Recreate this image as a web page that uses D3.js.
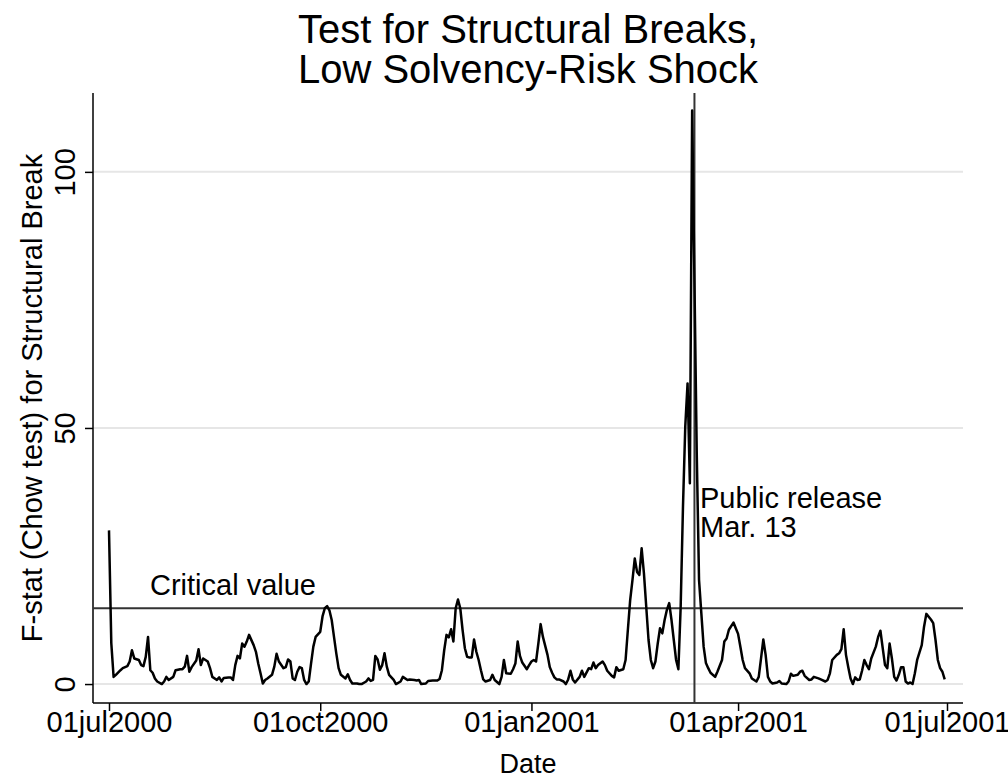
<!DOCTYPE html>
<html>
<head>
<meta charset="utf-8">
<script src="https://cdn.jsdelivr.net/npm/d3@7"></script>
<style>
body { margin: 0; background: #fff; }
text { font-family: "Liberation Sans", Arial, Helvetica, sans-serif; fill: #000; }
</style>
</head>
<body>
<div id="chart"></div>
<script>
// days since 01jul2000
var dayIdx = [0,1,2,3,5,6,8,9,10,11,13,14,15,16,17,18,19,20,21,23,24,25,26,28,29,31,32,33,34,35,36,38,39,40,41,43,44,45,47,48,49,50,52,53,54,55,56,57,
  58,59,60,61,63,64,65,66,67,68,69,71,72,73,74,76,77,78,79,80,81,82,83,84,85,86,87,88,89,90,92,93,94,95,96,97,98,99,100,101,103,104,105,106,108,109,110,112,113,114,115,116,117,118,
  119,120,121,122,124,125,127,128,130,131,133,134,135,136,138,139,141,143,144,145,146,147,148,149,150,151,152,153,154,155,156,157,158,159,160,161,162,163,164,166,167,168,170,171,172,173,175,176,177,178,179,
  180,182,183,184,185,186,187,188,189,191,192,193,194,195,196,198,199,200,201,202,203,205,206,207,209,210,211,212,213,215,216,217,219,220,221,222,224,225,226,227,
  228,229,230,231,232,233,234,235,236,237,238,239,240,241,242,243,244,245,246,247,248,249,250,251,252,253,254,256,257,258,259,260,261,
  262,264,265,267,268,269,270,272,273,274,275,276,277,279,280,282,283,284,285,286,287,288,289,291,292,293,295,296,297,298,300,301,302,303,305,306,307,309,310,
  312,313,314,315,317,318,319,320,321,322,323,324,325,326,327,328,329,330,331,332,334,335,336,337,338,339,340,341,342,343,344,345,346,347,348,349,350,351,352,354,355,356,358,359,360,361,362,363,364];
var fstat = [30,8,1.4,1.8,2.7,3.1,3.5,4.4,6.6,5.0,4.7,3.7,3.5,5.3,9.2,2.7,2.2,1.1,0.5,0.0,0.5,1.4,0.8,1.4,2.7,2.9,2.9,3.4,5.5,2.4,3.3,4.6,6.8,3.7,5.0,4.4,3.1,1.4,0.8,1.3,0.5,1.2,1.3,1.3,0.8,3.7,5.5,5.0,
  7.9,7.3,8.3,9.6,7.6,6.3,4.0,2.1,0.1,0.8,1.1,1.8,3.4,5.9,4.4,3.1,3.3,4.8,4.4,1.1,0.8,2.4,3.3,3.1,0.8,0.0,0.5,4.0,7.3,9.2,10.2,13.2,14.8,15.2,14.4,12.5,9.2,6.0,3.1,1.8,1.1,1.9,0.8,0.1,0.1,0.0,0.0,0.5,1.1,0.6,0.8,5.5,4.8,2.8,
  3.7,6.0,3.4,1.8,0.8,0.0,0.5,1.4,0.8,0.9,0.8,0.7,0.8,0.0,0.1,0.6,0.7,0.7,1.0,2.7,6.6,9.6,9.1,10.7,8.3,14.8,16.5,14.8,10.6,7.0,5.3,5.2,5.2,8.7,6.3,4.7,2.7,0.9,0.5,0.8,1.8,0.8,0.0,1.4,4.7,2.1,2.0,2.9,4.0,8.3,5.5,
  4.2,2.9,3.7,4.4,4.7,4.4,7.9,11.7,9.2,5.7,3.3,2.2,1.3,0.9,0.9,0.5,0.0,0.9,2.6,0.9,0.3,1.4,2.6,1.4,3.1,2.9,4.2,3.1,3.7,4.4,3.7,2.6,1.6,1.3,3.3,2.6,2.9,4.7,10.6,16.4,
  20.3,24.5,21.9,21.3,26.5,21.6,15.1,8.6,4.7,3.1,4.4,7.9,10.9,9.9,12.5,14.5,15.8,12.5,8.6,4.7,2.9,15.1,34.6,50.3,58.7,39.2,112,45,20.3,13.8,7.3,4.1,3.1,
  2.2,1.4,2.4,4.7,8.3,8.9,10.6,12.0,10.9,9.8,7.3,4.7,3.1,2.1,1.1,0.5,1.4,5.0,8.7,5.7,1.4,0.5,0.1,0.3,0.6,0.1,0.0,0.5,2.0,1.6,1.8,2.4,2.6,1.6,0.8,0.9,1.4,1.1,0.9,
  0.5,0.8,2.1,4.7,5.7,6.0,6.8,10.7,5.7,3.3,1.1,0.0,1.3,0.8,0.9,2.6,4.7,3.7,2.9,5.0,7.3,9.2,10.4,7.0,3.7,3.1,7.9,5.0,1.4,0.7,1.8,3.3,3.3,0.5,0.1,0.3,0.0,2.1,4.7,7.6,11.2,13.7,12.6,11.9,8.6,4.7,3.1,2.4,0.9];

var xTicks = ["2000-07-01","2000-10-01","2001-01-01","2001-04-01","2001-07-01"];
var yTicks = [0, 50, 100];
var criticalValue = 14.8;
var releaseDate = "2001-03-13";

var parse = d3.timeParse("%Y-%m-%d");
var fmt = d3.timeFormat("%d%b%Y");
var start = parse("2000-07-01");

var data = dayIdx.map(function(d, i) {
  return { date: d3.timeDay.offset(start, d), value: fstat[i] };
});

var W = 1008, H = 782;
var pLeft = 93, pRight = 963, pTop = 93, pBottom = 703;

var svg = d3.select("#chart").append("svg")
  .attr("width", W).attr("height", H);

var x = d3.scaleTime()
  .domain([parse("2000-07-01"), parse("2001-07-01")])
  .range([109, 947]);
var y = d3.scaleLinear()
  .domain([-3.7, 115.4])
  .range([pBottom, pTop]);

// gridlines
svg.append("g").selectAll("line")
  .data(yTicks).enter().append("line")
  .attr("x1", pLeft).attr("x2", pRight)
  .attr("y1", function(d) { return y(d); })
  .attr("y2", function(d) { return y(d); })
  .attr("stroke", "#e6e6e6").attr("stroke-width", 2);

// y axis
var yAxis = svg.append("g")
  .attr("transform", "translate(" + pLeft + ",0)")
  .call(d3.axisLeft(y).tickValues(yTicks).tickSize(8).tickSizeOuter(0));
yAxis.select(".domain").attr("d", "M0," + pTop + "V" + pBottom).attr("stroke", "#000").attr("stroke-width", 1.5);
yAxis.selectAll(".tick line").attr("stroke", "#000").attr("stroke-width", 1.5);
yAxis.selectAll(".tick text")
  .attr("font-size", 29)
  .attr("x", 0).attr("dy", 0)
  .attr("text-anchor", "middle")
  .attr("transform", "translate(-18,0) rotate(-90)");

// x axis
var xAxis = svg.append("g")
  .attr("transform", "translate(0," + pBottom + ")")
  .call(d3.axisBottom(x).tickValues(xTicks.map(parse)).tickFormat(function(d) { return fmt(d).toLowerCase(); }).tickSize(8).tickSizeOuter(0));
xAxis.select(".domain").attr("d", "M" + pLeft + ",0H" + pRight).attr("stroke", "#000").attr("stroke-width", 1.5);
xAxis.selectAll(".tick line").attr("stroke", "#000").attr("stroke-width", 1.5);
xAxis.selectAll(".tick text").attr("font-size", 29).attr("y", 29).attr("dy", 0);

// critical value line
svg.append("line")
  .attr("x1", pLeft).attr("x2", pRight)
  .attr("y1", y(criticalValue)).attr("y2", y(criticalValue))
  .attr("stroke", "#333").attr("stroke-width", 2);

// release line
svg.append("line")
  .attr("x1", x(parse(releaseDate))).attr("x2", x(parse(releaseDate)))
  .attr("y1", pTop).attr("y2", pBottom)
  .attr("stroke", "#333").attr("stroke-width", 2);

// series
var line = d3.line()
  .x(function(d) { return x(d.date); })
  .y(function(d) { return y(d.value); });
svg.append("path")
  .datum(data)
  .attr("d", line)
  .attr("fill", "none")
  .attr("stroke", "#000")
  .attr("stroke-width", 2.5)
  .attr("stroke-linejoin", "round");

// labels
svg.append("text").attr("x", 150).attr("y", 595).attr("font-size", 29).text("Critical value");
svg.append("text").attr("x", 700).attr("y", 508).attr("font-size", 29).text("Public release");
svg.append("text").attr("x", 700).attr("y", 537).attr("font-size", 29).text("Mar. 13");

svg.append("text").attr("x", 528).attr("y", 43).attr("font-size", 40).attr("text-anchor", "middle").text("Test for Structural Breaks,");
svg.append("text").attr("x", 528).attr("y", 83).attr("font-size", 40).attr("text-anchor", "middle").text("Low Solvency-Risk Shock");

svg.append("text").attr("x", 528).attr("y", 773).attr("font-size", 27).attr("text-anchor", "middle").text("Date");
svg.append("text")
  .attr("transform", "translate(42,398) rotate(-90)")
  .attr("font-size", 29).attr("text-anchor", "middle")
  .text("F-stat (Chow test) for Structural Break");
</script>
</body>
</html>
